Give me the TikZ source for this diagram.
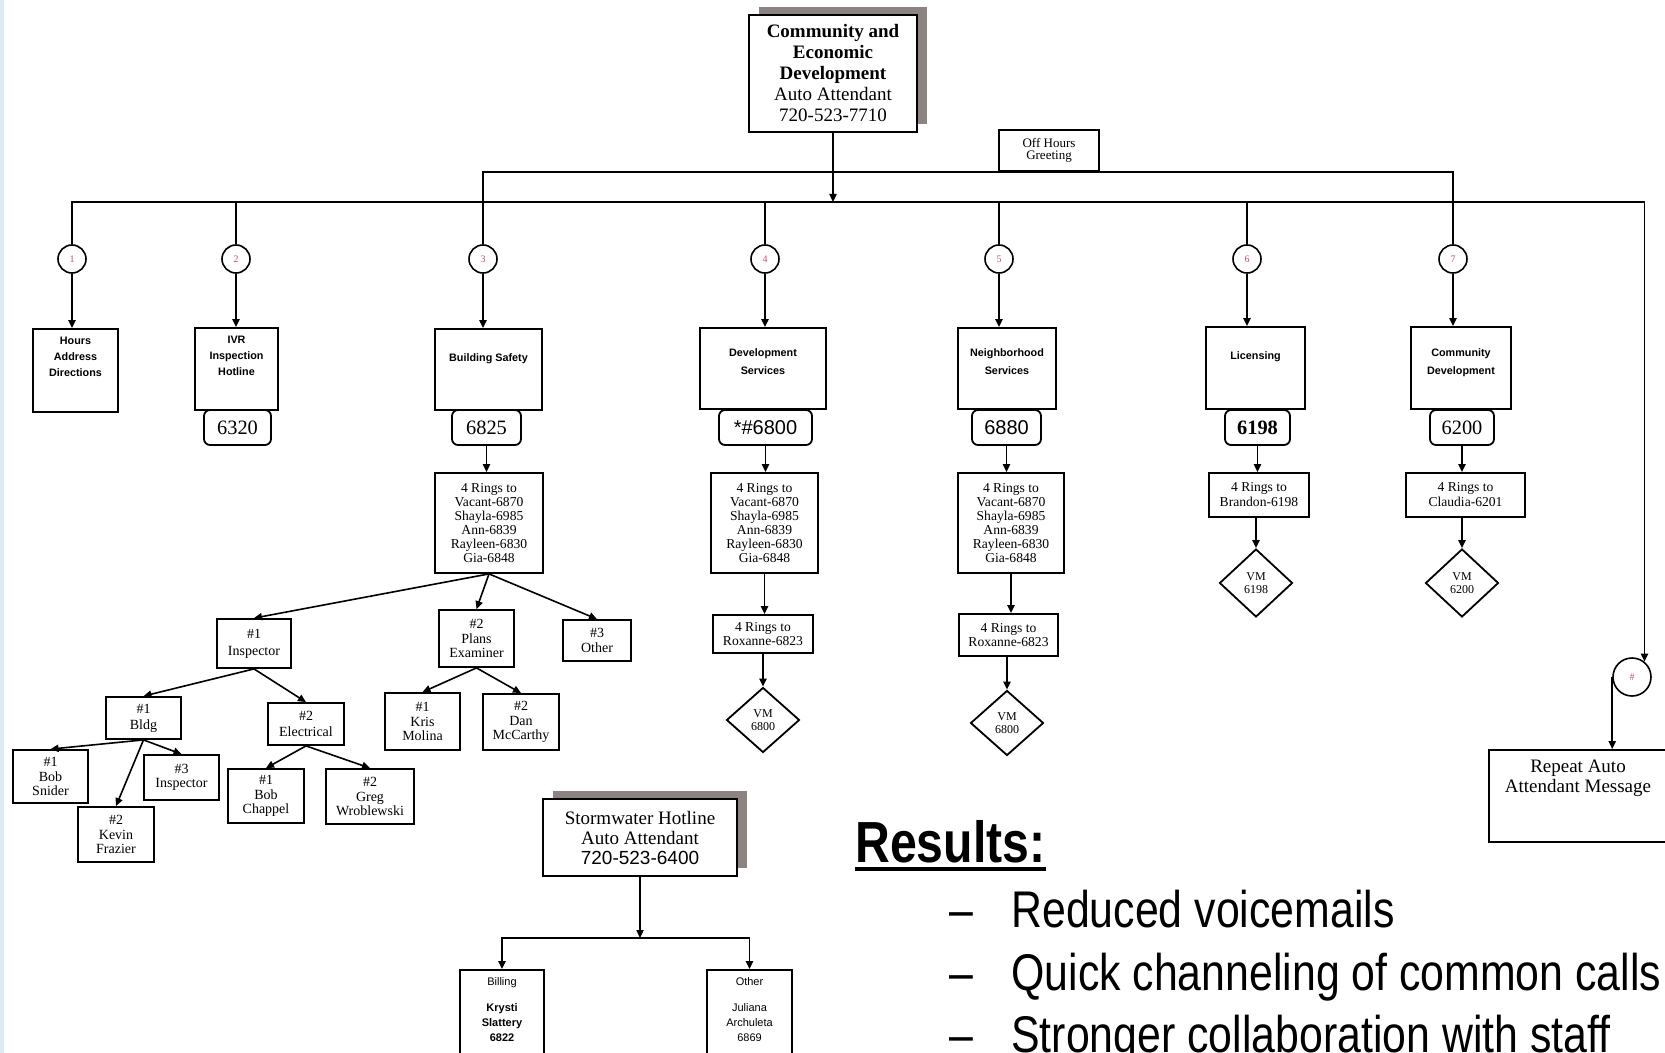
\documentclass[tikz,border=0pt]{standalone}
\usepackage{fontspec}
\setmainfont{Liberation Serif}
\setsansfont{Liberation Sans}
\newfontfamily\resfont{Liberation Sans}[FakeStretch=0.83]
\usetikzlibrary{arrows.meta,shapes.geometric,shadows}
\definecolor{shadowgray}{HTML}{8C8480}
\definecolor{optred}{HTML}{C8506E}
\definecolor{edgeblue}{HTML}{DCEAF5}
\tikzset{
  arr/.style={-{Triangle[length=4pt,width=3.6pt]}, line width=0.8pt},
  wire/.style={line width=0.8pt},
  box/.style={draw, line width=0.9pt, inner sep=0pt, align=center},
  topbox/.style={box, fill=white, drop shadow={shadow xshift=5pt, shadow yshift=4pt, fill=shadowgray, opacity=1}},
  dept/.style={box},
  depttxt/.style={align=center, inner sep=0pt, font=\sffamily\bfseries\fontsize{5.4}{8.8}\selectfont},
  billtxt/.style={align=center, inner sep=0pt, anchor=north, font=\sffamily\fontsize{5.5}{7.5}\selectfont},
  ext/.style={box, rounded corners=3pt, font=\fontsize{10.2}{11}\selectfont},
  ring/.style={box, font=\fontsize{6.8}{7}\selectfont},
  pick/.style={box, font=\fontsize{7}{7.2}\selectfont},
  vm/.style={draw, diamond, line width=0.9pt, inner sep=0pt, align=center, minimum width=36.5pt, minimum height=32.5pt, font=\fontsize{6}{6.3}\selectfont},
  opt/.style={circle, draw, fill=white, line width=0.8pt, minimum size=14pt, inner sep=0pt, text=optred, font=\fontsize{5}{5}\selectfont},
  bullet/.style={anchor=base west, inner sep=0pt, font=\resfont\fontsize{25.8}{30}\selectfont}
}

\begin{document}
\begin{tikzpicture}[x=0.5pt,y=-0.5pt]
  \useasboundingbox (0,0) rectangle (1665,1053);
  \fill[edgeblue] (0,0) rectangle (4,1053);

  % auto attendant and greeting
  \node[topbox, minimum width=84pt, minimum height=58.5pt, font=\fontsize{9.5}{10.5}\selectfont] (main) at (833,73.5)
    {\textbf{Community and}\\\textbf{Economic}\\\textbf{Development}\\Auto Attendant\\720-523-7710};
  \node[box, minimum width=50pt, minimum height=20.5pt, font=\fontsize{6.5}{6.3}\selectfont] (offh) at (1049,150.5) {Off Hours\\Greeting};

  % menu options
  \foreach \n/\x in {1/72,2/236,3/483,4/765,5/999,6/1247,7/1453}
    \node[opt] (c\n) at (\x,259) {\n};
  \node[opt, minimum size=19pt] (hash) at (1632,677) {\#};

  % departments
  \node[dept, minimum width=42.5pt, minimum height=41.5pt] (d1) at (75.5,370.5) {};
  \node[depttxt, font=\sffamily\bfseries\fontsize{5.4}{8}\selectfont] (d1t) at ([yshift=7pt]d1.center) {Hours\\Address\\Directions};
  \node[dept, minimum width=41.5pt, minimum height=41pt] (d2) at (236.5,369) {};
  \node[depttxt, font=\sffamily\bfseries\fontsize{5.4}{8}\selectfont] (d2t) at ([yshift=6.5pt]d2.center) {IVR\\Inspection\\Hotline};
  \node[dept, minimum width=53.5pt, minimum height=40.5pt] (d3) at (488.5,369.5) {};
  \node[depttxt] (d3t) at ([yshift=5.25pt]d3.center) {Building Safety};
  \node[dept, minimum width=63pt, minimum height=40.5pt] (d4) at (763,368.5) {};
  \node[depttxt] (d4t) at ([yshift=3.5pt]d4.center) {Development\\Services};
  \node[dept, minimum width=49pt, minimum height=40.5pt] (d5) at (1007,368.5) {};
  \node[depttxt] (d5t) at ([yshift=3.5pt]d5.center) {Neighborhood\\Services};
  \node[dept, minimum width=49.5pt, minimum height=41pt] (d6) at (1255.5,368) {};
  \node[depttxt] (d6t) at ([yshift=5.5pt]d6.center) {Licensing};
  \node[dept, minimum width=50pt, minimum height=41pt] (d7) at (1461,368) {};
  \node[depttxt] (d7t) at ([yshift=2.75pt]d7.center) {Community\\Development};

  % extensions
  \node[ext, minimum width=33.5pt, minimum height=17.5pt] (e2) at (237.5,427.5) {6320};
  \node[ext, minimum width=34.5pt, minimum height=17.5pt] (e3) at (486.5,427.5) {6825};
  \node[ext, minimum width=46.5pt, minimum height=17.5pt, font=\sffamily\fontsize{10}{11}\selectfont] (e4) at (765.5,427.5) {*\#6800};
  \node[ext, minimum width=34.5pt, minimum height=17.5pt, font=\sffamily\fontsize{10}{11}\selectfont] (e5) at (1006.5,427.5) {6880};
  \node[ext, minimum width=32.5pt, minimum height=17.5pt, font=\bfseries\fontsize{10.2}{11}\selectfont] (e6) at (1257.5,427.5) {6198};
  \node[ext, minimum width=32pt, minimum height=17.5pt] (e7) at (1462,427.5) {6200};

  % ring groups and voicemail
  \node[ring, minimum width=54pt, minimum height=50pt] (r3) at (489,523) {4 Rings to\\Vacant-6870\\Shayla-6985\\Ann-6839\\Rayleen-6830\\Gia-6848};
  \node[ring, minimum width=53.5pt, minimum height=50pt] (r4) at (764.5,523) {4 Rings to\\Vacant-6870\\Shayla-6985\\Ann-6839\\Rayleen-6830\\Gia-6848};
  \node[ring, minimum width=53pt, minimum height=50pt] (r5) at (1011,523) {4 Rings to\\Vacant-6870\\Shayla-6985\\Ann-6839\\Rayleen-6830\\Gia-6848};
  \node[ring, minimum width=50pt, minimum height=22pt, font=\fontsize{6.8}{7.5}\selectfont] (r6) at (1259,495) {4 Rings to\\Brandon-6198};
  \node[ring, minimum width=59.5pt, minimum height=22pt, font=\fontsize{6.8}{7.5}\selectfont] (r7) at (1465.5,495) {4 Rings to\\Claudia-6201};
  \node[ring, minimum width=50pt, minimum height=19pt] (x4) at (763,634) {4 Rings to\\Roxanne-6823};
  \node[ring, minimum width=49.5pt, minimum height=21pt] (x5) at (1008.5,635) {4 Rings to\\Roxanne-6823};
  \node[vm] (v4) at (763,720) {VM\\6800};
  \node[vm] (v5) at (1007,723) {VM\\6800};
  \node[vm, minimum height=34pt] (v6) at (1256,583) {VM\\6198};
  \node[vm, minimum height=34pt] (v7) at (1462,583) {VM\\6200};

  % building safety sub menu
  \node[pick, minimum width=37pt, minimum height=24.5pt, font=\fontsize{7}{8.5}\selectfont] (i1) at (254,643.5) {\#1\\Inspector};
  \node[pick, minimum width=37.5pt, minimum height=28.5pt] (i2) at (476.5,638.5) {\#2\\Plans\\Examiner};
  \node[pick, minimum width=34pt, minimum height=20.5pt] (i3) at (597,640.5) {\#3\\Other};
  \node[pick, minimum width=37.5pt, minimum height=21pt, font=\fontsize{7}{8}\selectfont] (b1) at (143.5,718) {\#1\\Bldg};
  \node[pick, minimum width=38pt, minimum height=21pt, font=\fontsize{7}{8}\selectfont] (b2) at (306,724) {\#2\\Electrical};
  \node[pick, minimum width=37.5pt, minimum height=26.5pt] (k1) at (50.5,776.5) {\#1\\Bob\\Snider};
  \node[pick, minimum width=38pt, minimum height=27.5pt] (k2) at (116,834.5) {\#2\\Kevin\\Frazier};
  \node[pick, minimum width=37.5pt, minimum height=22.5pt] (k3) at (181.5,777.5) {\#3\\Inspector};
  \node[pick, minimum width=38pt, minimum height=27pt] (l1) at (266,796) {\#1\\Bob\\Chappel};
  \node[pick, minimum width=44pt, minimum height=27.5pt] (l2) at (370,796.5) {\#2\\Greg\\Wroblewski};
  \node[pick, minimum width=37.5pt, minimum height=28.5pt] (p1) at (422.5,721.5) {\#1\\Kris\\Molina};
  \node[pick, minimum width=38pt, minimum height=28pt] (p2) at (521,722) {\#2\\Dan\\McCarthy};

  % stormwater hotline
  \node[topbox, minimum width=97pt, minimum height=38.5pt, font=\fontsize{9.5}{10}\selectfont] (sw) at (640,837.5) {Stormwater Hotline\\Auto Attendant\\{\sffamily 720-523-6400}};
  \node[box, minimum width=42pt, minimum height=45pt] (bill) at (502,1015) {};
  \node[billtxt] (billt) at ([yshift=-4pt]bill.north) {Billing\\[5.5pt]\textbf{Krysti}\\\textbf{Slattery}\\\textbf{6822}};
  \node[box, minimum width=42.5pt, minimum height=45pt] (oth) at (749.5,1015) {};
  \node[billtxt] (otht) at ([yshift=-4pt]oth.north) {Other\\[5.5pt]Juliana\\Archuleta\\6869};

  % repeat
  \node[box, minimum width=89pt, minimum height=46pt] (rep) at (1578,796) {};
  \node[align=center, inner sep=0pt, font=\fontsize{9.5}{10}\selectfont] (rept) at ([yshift=9pt]rep.center) {Repeat Auto\\Attendant Message};

  % connectors
  \coordinate (bus) at (833,202);
  \draw[arr] (main.south) -- (bus);
  \draw[arr] (c1.north) |- (bus) -| (hash.51);
  \draw[wire] (c3.north) |- (offh.south) -| (c7.north);
  \foreach \n in {2,4,5,6} \draw[wire] (c\n.north) -- (c\n.north |- bus);
  \foreach \n in {1,...,7} \draw[arr] (c\n.south) -- (c\n.south |- d\n.north);
  \draw[arr] (hash.west) -- (hash.west |- rep.north);
  \foreach \n in {3,...,7} \draw[arr] (e\n.south) -- (e\n.south |- r\n.north);
  \foreach \n in {4,5} {
    \draw[arr] (r\n.south) -- (r\n.south |- x\n.north);
    \draw[arr] (v\n.north |- x\n.south) -- (v\n.north);
  }
  \foreach \n in {6,7} \draw[arr] (v\n.north |- r\n.south) -- (v\n.north);
  \foreach \t in {i1,i2,i3} \draw[arr] (r3.south) -- (\t.north);
  \foreach \t in {b1,b2} \draw[arr] (i1.south) -- (\t.north);
  \foreach \t in {k1,k2,k3} \draw[arr] (b1.south) -- (\t.north);
  \foreach \t in {l1,l2} \draw[arr] (b2.south) -- (\t.north);
  \foreach \t in {p1,p2} \draw[arr] (i2.south) -- (\t.north);
  \coordinate (swj) at (640,938);
  \draw[arr] (sw.south) -- (swj);
  \draw[arr] (swj) -| (bill.north);
  \draw[arr] (swj) -| (oth.north);

  % results
  \node[anchor=base west, inner sep=0pt, font=\resfont\bfseries\fontsize{29}{30}\selectfont] (res) at (855,862) {Results:};
  \draw[line width=1.6pt] ([yshift=-3.5pt]res.base west) -- ([yshift=-3.5pt]res.base east);
  \node[bullet] (dash1) at (949,927) {–};
  \node[bullet] (item1) at (1011,927) {Reduced voicemails};
  \node[bullet] (dash2) at (949,990) {–};
  \node[bullet] (item2) at (1011,990) {Quick channeling of common calls};
  \node[bullet] (dash3) at (949,1052) {–};
  \node[bullet] (item3) at (1011,1052) {Stronger collaboration with staff};
\end{tikzpicture}
\end{document}
